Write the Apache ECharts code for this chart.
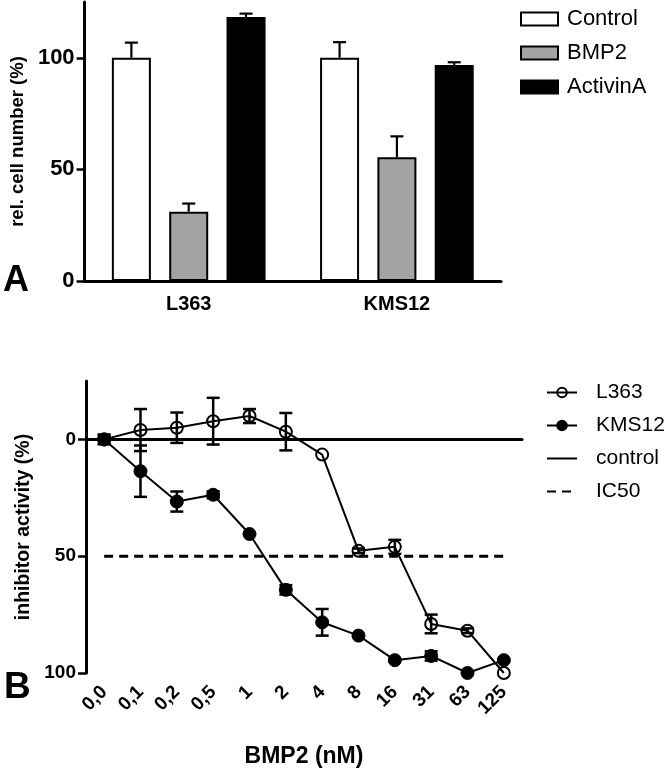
<!DOCTYPE html>
<html>
<head>
<meta charset="utf-8">
<script src="https://cdn.jsdelivr.net/npm/echarts@6/dist/echarts.min.js"></script>
<style>
html,body{margin:0;padding:0;background:#fff}
#chart{width:671px;height:772px}
</style>
</head>
<body>
<div id="chart"></div>
<script>
// panel A
const cellLines = ['L363', 'KMS12']
const controlVals = [100, 100]
const controlErr = [6.8, 7]
const bmp2Vals = [31, 55.4]
const bmp2Err = [3.7, 9.4]
const activinVals = [118.3, 96.8]
const activinErr = [1.5, 1.2]
const yTicksA = [0, 50, 100]

// panel B
const doses = ['0,0', '0,1', '0,2', '0,5', '1', '2', '4', '8', '16', '31', '63', '125']
const l363 = [0, -4, -5, -7.8, -10, -3.3, 6.5, 47.7, 46, 79, 81.9, 100]
const l363Err = [2, 9, 6.5, 10, 3, 8, 0, 1, 3, 4, 1, 0]
const kms12 = [0, 13.6, 26.6, 23.7, 40.5, 64.4, 78.3, 84, 94.5, 92.7, 100, 94.5]
const kms12Err = [2, 11, 4.3, 1.5, 0, 2, 5.7, 0, 0, 2, 0, 0]
const controlLine = [0, 0, 0, 0, 0, 0, 0, 0, 0, 0, 0, 0]
const ic50Line = [50, 50, 50, 50, 50, 50, 50, 50, 50, 50, 50, 50]
const yTicksB = [0, 50, 100]

const FONT = '"Liberation Sans", Arial, sans-serif'
const barW = 39
const barGap = 0.47
const step = barW * (1 + barGap)
const noSymbol = {color: 'rgba(0,0,0,0)', borderWidth: 0}

const errDataA = []
;[[controlVals, controlErr], [bmp2Vals, bmp2Err], [activinVals, activinErr]].forEach((pair, k) => {
  pair[0].forEach((v, i) => errDataA.push([i, v, pair[1][i], k]))
})
const errDataB = []
;[[l363, l363Err], [kms12, kms12Err]].forEach(pair => {
  pair[0].forEach((v, i) => { if (pair[1][i] > 0) errDataB.push([i, v, pair[1][i]]) })
})

const chart = echarts.init(document.getElementById('chart'))
chart.setOption({
  backgroundColor: '#fff',
  animation: false,
  textStyle: {fontFamily: FONT},
  graphic: [
    {type: 'text', left: 3, top: 263, style: {text: 'A', font: 'bold 36px ' + FONT, fill: '#000'}},
    {type: 'text', left: 4, top: 669, style: {text: 'B', font: 'bold 37px ' + FONT, fill: '#000'}}
  ],
  legend: [
    {
      left: 520, top: 8, orient: 'vertical', icon: 'rect', padding: 0,
      itemWidth: 37, itemHeight: 13, itemGap: 12,
      data: ['Control', 'BMP2', 'ActivinA'],
      textStyle: {fontSize: 22, color: '#000', padding: [0, 0, 0, 4]}
    },
    {
      left: 546, top: 382, orient: 'vertical', padding: 0,
      itemWidth: 30, itemHeight: 12, itemGap: 12,
      data: ['L363', 'KMS12', 'control', 'IC50'],
      textStyle: {fontSize: 21, color: '#000', padding: [0, 0, 0, 14]}
    }
  ],
  grid: [
    {left: 83, right: 170, top: 2, bottom: 491},
    {left: 86, right: 149, top: 381, bottom: 99}
  ],
  xAxis: [
    {
      gridIndex: 0, type: 'category', data: cellLines,
      axisLine: {lineStyle: {color: '#000', width: 3}},
      axisTick: {alignWithLabel: true, length: 7, lineStyle: {color: '#000', width: 2.5}},
      axisLabel: {color: '#000', fontWeight: 'bold', fontSize: 20, margin: 13}
    },
    {
      gridIndex: 1, type: 'category', data: doses,
      name: 'BMP2 (nM)', nameLocation: 'middle', nameGap: 72,
      nameTextStyle: {color: '#000', fontWeight: 'bold', fontSize: 23},
      axisLine: {lineStyle: {color: '#000', width: 3}},
      axisTick: {alignWithLabel: true, length: 7, lineStyle: {color: '#000', width: 2.5}},
      axisLabel: {color: '#000', fontWeight: 'bold', fontSize: 19, rotate: 45, margin: 16, interval: 0}
    }
  ],
  yAxis: [
    {
      gridIndex: 0, type: 'value', min: 0, max: 125,
      name: 'rel. cell number (%)', nameLocation: 'middle', nameGap: 46,
      nameTextStyle: {color: '#000', fontWeight: 'bold', fontSize: 18.5},
      splitLine: {show: false},
      axisLine: {show: true, lineStyle: {color: '#000', width: 3}},
      axisTick: {show: true, length: 8, customValues: yTicksA, lineStyle: {color: '#000', width: 2.5}},
      axisLabel: {color: '#000', fontWeight: 'bold', fontSize: 22, margin: 10, customValues: yTicksA}
    },
    {
      gridIndex: 1, type: 'value', min: -25, max: 100, inverse: true,
      name: 'inhibitor activity (%)', nameLocation: 'middle', nameGap: 49,
      nameTextStyle: {color: '#000', fontWeight: 'bold', fontSize: 19.5},
      splitLine: {show: false},
      axisLine: {show: true, lineStyle: {color: '#000', width: 3}},
      axisTick: {show: true, length: 8, customValues: yTicksB, lineStyle: {color: '#000', width: 2.5}},
      axisLabel: {color: '#000', fontWeight: 'bold', fontSize: 19, margin: 10, customValues: yTicksB}
    }
  ],
  series: [
    {
      name: 'Control', type: 'bar', xAxisIndex: 0, yAxisIndex: 0, data: controlVals,
      barWidth: barW, barGap: (barGap * 100) + '%',
      itemStyle: {color: '#fff', borderColor: '#000', borderWidth: 2}
    },
    {
      name: 'BMP2', type: 'bar', xAxisIndex: 0, yAxisIndex: 0, data: bmp2Vals,
      barWidth: barW,
      itemStyle: {color: '#a3a3a6', borderColor: '#000', borderWidth: 2}
    },
    {
      name: 'ActivinA', type: 'bar', xAxisIndex: 0, yAxisIndex: 0, data: activinVals,
      barWidth: barW,
      itemStyle: {color: '#000', borderColor: '#000', borderWidth: 2}
    },
    {
      type: 'custom', xAxisIndex: 0, yAxisIndex: 0, data: errDataA, z: 3,
      encode: {x: 0, y: 1},
      renderItem: (params, api) => {
        const p = api.coord([api.value(0), api.value(1)])
        const q = api.coord([api.value(0), api.value(1) + api.value(2)])
        const x = p[0] + (api.value(3) - 1) * step
        const st = {stroke: '#000', lineWidth: 2.2}
        return {type: 'group', children: [
          {type: 'line', shape: {x1: x, y1: p[1], x2: x, y2: q[1]}, style: st},
          {type: 'line', shape: {x1: x - 6.5, y1: q[1], x2: x + 6.5, y2: q[1]}, style: st}
        ]}
      }
    },
    {
      name: 'control', type: 'line', xAxisIndex: 1, yAxisIndex: 1, data: controlLine,
      symbol: 'none', lineStyle: {color: '#000', width: 2.5}, itemStyle: noSymbol
    },
    {
      name: 'IC50', type: 'line', xAxisIndex: 1, yAxisIndex: 1, data: ic50Line,
      symbol: 'none', lineStyle: {color: '#000', width: 3, type: [9, 6]}, itemStyle: noSymbol
    },
    {
      name: 'L363', type: 'line', xAxisIndex: 1, yAxisIndex: 1, data: l363,
      symbol: 'circle', symbolSize: 12, z: 4,
      lineStyle: {color: '#000', width: 2},
      itemStyle: {color: 'rgba(255,255,255,0)', borderColor: '#000', borderWidth: 2}
    },
    {
      name: 'KMS12', type: 'line', xAxisIndex: 1, yAxisIndex: 1, data: kms12,
      symbol: 'circle', symbolSize: 13, z: 4,
      lineStyle: {color: '#000', width: 2},
      itemStyle: {color: '#000', borderColor: '#000', borderWidth: 1}
    },
    {
      type: 'custom', xAxisIndex: 1, yAxisIndex: 1, data: errDataB, z: 5,
      encode: {x: 0, y: 1},
      renderItem: (params, api) => {
        const lo = api.coord([api.value(0), api.value(1) - api.value(2)])
        const hi = api.coord([api.value(0), api.value(1) + api.value(2)])
        const x = lo[0]
        const st = {stroke: '#000', lineWidth: 2.5}
        return {type: 'group', children: [
          {type: 'line', shape: {x1: x, y1: lo[1], x2: x, y2: hi[1]}, style: st},
          {type: 'line', shape: {x1: x - 6.5, y1: lo[1], x2: x + 6.5, y2: lo[1]}, style: st},
          {type: 'line', shape: {x1: x - 6.5, y1: hi[1], x2: x + 6.5, y2: hi[1]}, style: st}
        ]}
      }
    }
  ]
})
</script>
</body>
</html>
